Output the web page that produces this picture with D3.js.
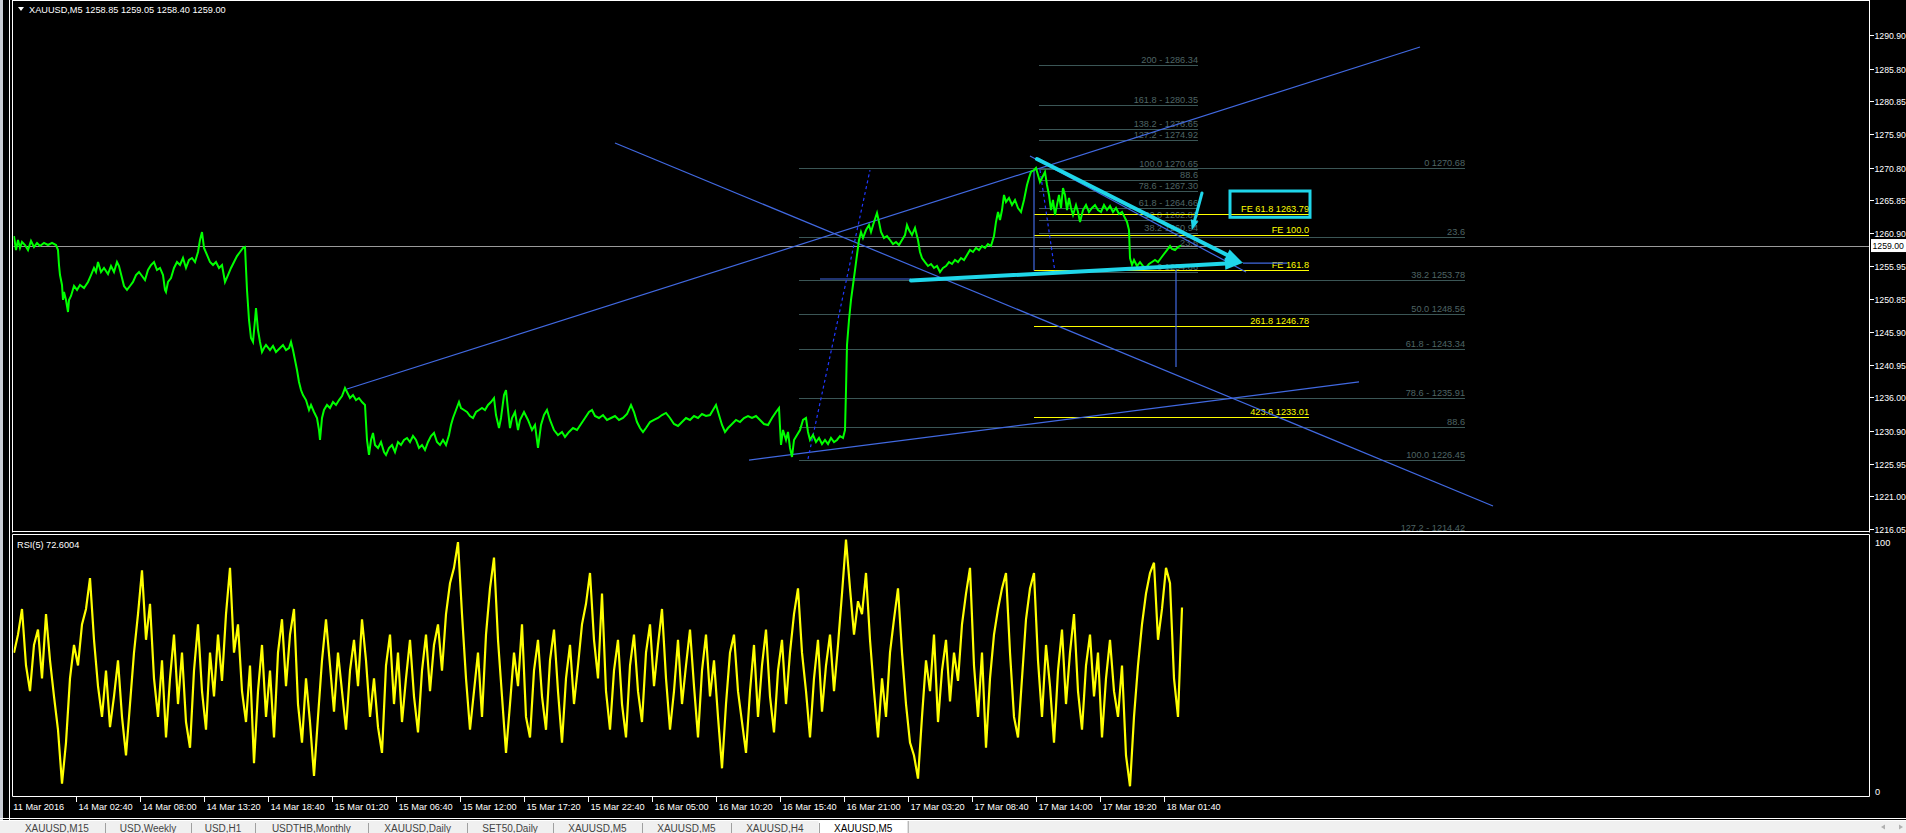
<!DOCTYPE html>
<html><head><meta charset="utf-8">
<script src="https://cdn.jsdelivr.net/npm/d3@7"></script>
<style>
body{margin:0;background:#000;overflow:hidden}
svg{display:block}
text{font-family:'Liberation Sans',Arial,sans-serif}
</style>
</head><body>
<svg id="c" width="1906" height="833"></svg>
<script>
// ---------------- DATA ----------------
const symbolHeader = "XAUUSD,M5  1258.85 1259.05 1258.40 1259.00";
const rsiHeader = "RSI(5) 72.6004";
const currentPrice = 1259.00;
const priceTickLabels = ["1290.90","1285.80","1280.85","1275.90","1270.80","1265.85","1260.90","1255.95","1250.85","1245.90","1240.95","1236.00","1230.90","1225.95","1221.00","1216.05"];
const firstDateLabel = "11 Mar 2016";
const timeLabels = ["14 Mar 02:40","14 Mar 08:00","14 Mar 13:20","14 Mar 18:40","15 Mar 01:20","15 Mar 06:40","15 Mar 12:00","15 Mar 17:20","15 Mar 22:40","16 Mar 05:00","16 Mar 10:20","16 Mar 15:40","16 Mar 21:00","17 Mar 03:20","17 Mar 08:40","17 Mar 14:00","17 Mar 19:20","18 Mar 01:40"];
const firstTickBar = 62, barsPerLabel = 64;
// [bar index, close]
const priceSeries = [[0,1260.44],[2,1258.32],[4,1259.84],[6,1258.63],[8,1259.54],[11,1259.08],[14,1258.32],[17,1259.69],[20,1258.78],[23,1259.39],[26,1258.93],[30,1259.39],[34,1259.08],[38,1259.39],[42,1259.08],[44,1258.32],[45,1256.05],[46,1254.53],[48,1253.02],[49,1250.75],[50,1251.96],[52,1250.75],[54,1248.93],[55,1250.75],[57,1251.36],[60,1252.87],[63,1252.27],[66,1253.02],[70,1252.57],[74,1253.48],[77,1254.53],[80,1255.6],[82,1254.99],[84,1256.5],[87,1254.99],[90,1255.6],[94,1254.69],[97,1255.9],[100,1254.99],[103,1256.5],[105,1255.9],[108,1254.08],[110,1252.87],[113,1252.27],[116,1252.87],[119,1253.48],[122,1254.53],[125,1254.99],[128,1254.38],[131,1253.78],[134,1255.29],[137,1256.05],[140,1256.5],[143,1255.29],[146,1255.6],[149,1254.53],[151,1252.27],[152,1251.96],[154,1253.48],[157,1254.08],[160,1255.6],[163,1256.5],[166,1256.05],[169,1257.11],[172,1255.6],[175,1256.81],[178,1257.11],[181,1256.5],[184,1258.02],[186,1259.84],[188,1261.05],[190,1258.63],[193,1257.57],[196,1256.5],[199,1256.05],[202,1256.5],[205,1255.6],[208,1256.05],[211,1253.48],[214,1254.53],[217,1255.6],[220,1256.5],[223,1257.41],[226,1258.02],[229,1258.63],[231,1258.78],[233,1252.27],[235,1247.72],[237,1244.99],[239,1244.39],[241,1247.72],[242,1249.54],[244,1246.2],[246,1244.39],[248,1242.87],[250,1243.47],[252,1243.93],[256,1243.17],[259,1243.78],[262,1242.87],[266,1243.47],[269,1243.93],[272,1243.17],[275,1243.47],[277,1244.39],[279,1243.17],[281,1241.66],[283,1240.14],[285,1238.32],[287,1237.11],[289,1236.35],[292,1235.59],[295,1234.08],[297,1234.84],[300,1233.78],[303,1232.87],[305,1231.05],[306,1229.54],[308,1232.87],[310,1234.08],[313,1234.84],[316,1234.38],[319,1235.29],[322,1234.84],[325,1235.59],[328,1236.2],[331,1237.41],[333,1236.81],[336,1235.9],[339,1236.35],[342,1235.59],[345,1235.9],[348,1235.29],[351,1234.84],[353,1229.54],[355,1227.27],[357,1229.54],[359,1230.6],[361,1228.78],[364,1228.33],[367,1229.23],[370,1227.72],[372,1227.27],[375,1228.33],[378,1228.78],[381,1227.72],[384,1229.23],[387,1228.78],[390,1229.54],[393,1229.84],[396,1229.23],[399,1230.14],[402,1229.54],[405,1228.33],[408,1228.78],[411,1228.02],[414,1229.23],[417,1230.14],[420,1230.6],[423,1229.23],[426,1228.78],[429,1229.54],[432,1228.78],[435,1230.29],[437,1231.81],[439,1232.87],[442,1234.08],[445,1235.29],[447,1234.38],[450,1234.08],[453,1233.78],[456,1233.17],[459,1232.87],[462,1233.78],[465,1234.08],[468,1234.38],[471,1234.08],[474,1234.84],[477,1235.29],[480,1235.9],[482,1233.32],[485,1231.35],[487,1232.87],[490,1236.35],[492,1237.11],[494,1234.08],[496,1231.35],[498,1232.87],[501,1233.78],[504,1231.05],[506,1232.57],[510,1233.78],[514,1232.57],[518,1231.05],[521,1231.81],[524,1228.33],[527,1231.81],[530,1233.32],[533,1234.08],[536,1232.57],[540,1231.05],[544,1230.29],[548,1230.75],[551,1229.99],[555,1230.75],[559,1231.35],[563,1231.05],[567,1231.96],[571,1232.87],[575,1233.78],[578,1234.08],[581,1233.17],[585,1232.87],[589,1233.32],[593,1232.57],[597,1232.87],[601,1233.17],[605,1232.57],[609,1232.87],[613,1233.47],[617,1234.84],[620,1233.78],[623,1232.26],[626,1231.35],[629,1230.75],[632,1231.35],[636,1232.26],[640,1232.57],[644,1232.87],[648,1233.32],[652,1233.63],[656,1232.87],[660,1231.96],[664,1231.66],[668,1232.26],[672,1232.87],[676,1232.57],[680,1233.17],[684,1232.87],[688,1233.47],[692,1233.17],[696,1233.32],[699,1234.08],[702,1234.84],[705,1233.32],[708,1231.81],[711,1230.75],[714,1231.35],[718,1231.96],[722,1232.57],[726,1232.26],[730,1232.87],[734,1233.17],[738,1232.87],[742,1233.17],[746,1232.57],[750,1231.96],[754,1231.81],[758,1232.87],[762,1233.78],[765,1234.38],[767,1228.78],[769,1231.05],[772,1229.54],[774,1230.75],[776,1228.33],[778,1226.96],[780,1229.54],[783,1230.29],[786,1231.05],[789,1232.57],[792,1232.87],[794,1230.75],[796,1229.54],[799,1230.29],[802,1229.23],[805,1229.84],[808,1228.93],[811,1229.54],[814,1228.93],[817,1229.84],[820,1229.23],[823,1229.54],[826,1230.14],[829,1229.84],[831,1231.05],[832,1237.11],[833,1243.93],[835,1247.72],[837,1250.75],[839,1253.02],[841,1255.29],[843,1257.57],[845,1259.84],[847,1261.05],[849,1260.14],[852,1261.35],[855,1262.11],[857,1261.05],[860,1262.57],[863,1263.93],[865,1262.57],[867,1261.05],[870,1260.14],[873,1260.44],[876,1259.84],[879,1259.23],[882,1259.54],[885,1259.08],[888,1259.84],[891,1260.59],[893,1262.11],[895,1261.35],[898,1260.59],[901,1261.66],[904,1259.84],[906,1258.02],[908,1257.11],[911,1256.5],[914,1255.9],[917,1256.2],[920,1255.6],[923,1255.9],[926,1254.99],[929,1255.6],[932,1255.9],[935,1256.5],[938,1256.2],[941,1256.81],[944,1256.5],[947,1257.11],[950,1256.81],[953,1257.57],[956,1258.32],[959,1258.02],[962,1258.63],[965,1258.32],[968,1258.93],[971,1258.63],[974,1259.23],[977,1258.93],[980,1260.44],[982,1262.57],[984,1264.08],[986,1262.87],[988,1264.38],[990,1266.66],[992,1265.6],[995,1266.2],[998,1265.14],[1001,1265.9],[1004,1264.69],[1007,1264.08],[1010,1265.9],[1013,1268.17],[1015,1269.23],[1017,1270.14],[1020,1270.44],[1022,1270.75],[1024,1269.69],[1026,1268.63],[1028,1269.23],[1031,1270.14],[1033,1268.17],[1035,1266.66],[1037,1264.38],[1039,1265.9],[1041,1263.63],[1043,1265.14],[1045,1266.66],[1047,1264.69],[1049,1267.72],[1051,1266.66],[1053,1264.38],[1055,1266.2],[1057,1264.69],[1059,1263.63],[1062,1265.14],[1064,1264.08],[1066,1262.57],[1069,1264.38],[1072,1265.14],[1075,1264.08],[1078,1264.69],[1081,1265.14],[1084,1264.38],[1087,1264.08],[1090,1265.14],[1093,1264.38],[1096,1264.99],[1099,1264.08],[1102,1264.69],[1105,1263.78],[1108,1264.08],[1111,1263.17],[1113,1262.57],[1115,1261.35],[1116,1257.11],[1118,1256.05],[1120,1256.81],[1123,1255.9],[1126,1256.5],[1129,1255.9],[1132,1255.6],[1135,1256.2],[1138,1256.5],[1141,1256.81],[1144,1256.5],[1147,1257.11],[1150,1257.72],[1153,1258.32],[1156,1258.93],[1158,1258.47],[1161,1258.32],[1164,1258.78],[1167,1259.0]];
const rsiStep = 4;
const rsiValues = [55,62,72,50,40,58,64,45,70,52,38,
25,4,20,45,
58,50,66,72,84,60,
42,30,48,26,38,52,30,
15,
35,55,70,87,60,74,45,
30,52,22,45,62,35,55,28,18,48,66,40,25,55,38,62,44,70,
88,
55,66,40,28,50,
12,
40,58,30,48,22,55,68,42,62,72,35,20,45,28,
7,
30,52,68,50,
32,55,40,25,48,60,42,68,52,30,45,26,16,50,62,35,55,28,45,60,38,24,48,62,40,58,66,48,70,82,88,
98,
70,45,25,40,55,30,62,80,
92,
60,38,
16,
35,55,42,66,30,22,48,60,38,25,52,64,40,20,45,58,35,50,66,74,
86,
60,45,78,40,25,48,60,35,22,50,62,40,28,55,66,42,58,72,45,25,40,60,35,50,64,42,22,48,62,38,52,30,
10,
35,55,62,40,28,
16,
40,58,30,50,64,38,24,48,60,35,55,70,
80,
55,40,22,45,60,32,50,62,40,58,78,
99,
80,62,75,70,
86,
60,40,22,45,30,55,68,
80,
55,35,20,15,
6,
30,52,40,62,28,48,60,36,55,44,66,78,
88,
50,30,55,18,45,62,72,80,
86,
55,30,22,45,68,80,
86,
52,30,58,42,20,48,64,35,55,70,40,25,50,62,38,55,22,45,60,40,30,50,15,
3,
30,50,66,78,86,
90,
60,72,
88,
82,45,30,
72.6];

// Fibonacci retracement (upper-right)
const fib1Labels = ["200 - 1286.34","161.8 -  1280.35","138.2 - 1276.65","127.2 - 1274.92","100.0 1270.65","88.6","78.6 - 1267.30","61.8 - 1264.66","50.0 1262.80","38.2 1260.94","23.6","0 1254.86"];
const fib1Prices = [1286.34,1280.35,1276.65,1274.92,1270.65,1268.86,1267.30,1264.66,1262.80,1260.94,1258.64,1254.92];
const fib1Span = [1025,1184];
// Fibonacci retracement (large)
const fib2Labels = ["0 1270.68","23.6","38.2 1253.78","50.0 1248.56","61.8 - 1243.34","78.6 - 1235.91","88.6","100.0 1226.45","127.2 - 1214.42"];
const fib2Prices = [1270.68,1260.24,1253.78,1248.56,1243.34,1235.91,1231.49,1226.45,1214.42];
const fib2Span = [785,1451];
// Fibonacci expansion
const feLabels = ["FE 61.8 1263.79","FE 100.0","FE 161.8","261.8 1246.78","423.6 1233.01"];
const fePrices = [1263.79,1260.55,1255.29,1246.78,1233.01];
const feSpan = [1020,1295];

// trend lines: [[bar, price],[bar, price]]
const blueLines = [
  [[333,1237.26],[1406,1289.08]],
  [[601,1274.54],[1479,1219.54]],
  [[735,1226.50],[1345,1238.33]],
  [[1016,1272.57],[1232,1254.99]],
  [[1020,1270.5],[1020,1255.2]],
  [[1162,1255.3],[1162,1240.6]],
  [[806,1253.93],[897,1253.93]],
  [[1229,1256.35],[1273,1256.35]]
];
const blueDashed = [
  [[794,1226.66],[856,1270.44]],
  [[1026,1270.44],[1041,1254.99]]
];
const cyanArrows = [
  [[1023,1272.11],[1229,1256.35]],
  [[897,1253.70],[1229,1256.40]],
  [[1188,1266.96],[1178,1261.35]]
];
const cyanBox = [[1216,1267.26],[1296,1263.28]];

const tabNames = ["XAUUSD,M15","USD,Weekly","USD,H1","USDTHB,Monthly","XAUUSD,Daily","SET50,Daily","XAUUSD,M5","XAUUSD,M5","XAUUSD,H4","XAUUSD,M5"];
const activeTab = 9;

// ---------------- DRAW ----------------
const svg = d3.select('#c');
const PL = 13, PR = 1870, PB = 532, RT = 534, RB = 796;
const x = d3.scaleLinear().domain([0, 1856]).range([14, 1870]);
const y = d3.scaleLinear().domain([1290.9, 1216.05]).range([35, 529]);
const yr = d3.scaleLinear().domain([0, 100]).range([794, 537]);

const C = {grid:'#3b5656', fibText:'#4f6565', blue:'#4169e1', dash:'#2038ff', cyan:'#1fd6ea', yellow:'#ffff00', green:'#00ff00', white:'#ffffff'};
const FS = 9.2;

svg.append('rect').attr('width',1906).attr('height',833).attr('fill','#000');
const defs = svg.append('defs');
defs.append('clipPath').attr('id','mainClip').append('rect').attr('x',PL+0.5).attr('y',0).attr('width',PR-PL-1).attr('height',PB);
defs.append('clipPath').attr('id','rsiClip').append('rect').attr('x',PL+0.5).attr('y',RT+1).attr('width',PR-PL-1).attr('height',RB-RT-1);

const main = svg.append('g').attr('clip-path','url(#mainClip)');

function fibSet(labels, prices, span, lineColor, textColor){
  const g = main.append('g');
  prices.forEach((p,i)=>{
    const yy = Math.round(y(p));
    g.append('line').attr('x1',x(span[0])).attr('x2',x(span[1]))
      .attr('y1',yy+0.5).attr('y2',yy+0.5)
      .attr('stroke',lineColor).attr('stroke-width',1);
    g.append('text').attr('x',x(span[1])).attr('y',Math.min(yy-2, PB-1))
      .attr('text-anchor','end').attr('font-size',FS).attr('fill',textColor).text(labels[i]);
  });
}
fibSet(fib2Labels, fib2Prices, fib2Span, C.grid, C.fibText);
fibSet(fib1Labels, fib1Prices, fib1Span, C.grid, C.fibText);
fibSet(feLabels, fePrices, feSpan, C.yellow, C.yellow);

// current price line
main.append('line').attr('x1',PL).attr('x2',PR).attr('y1',Math.round(y(currentPrice))+0.5).attr('y2',Math.round(y(currentPrice))+0.5)
  .attr('stroke','#9a9a9a').attr('stroke-width',1);

// blue trend lines
blueLines.forEach(l=>{
  main.append('line').attr('x1',x(l[0][0])).attr('y1',y(l[0][1])).attr('x2',x(l[1][0])).attr('y2',y(l[1][1]))
    .attr('stroke',C.blue).attr('stroke-width',1.2);
});
blueDashed.forEach(l=>{
  main.append('line').attr('x1',x(l[0][0])).attr('y1',y(l[0][1])).attr('x2',x(l[1][0])).attr('y2',y(l[1][1]))
    .attr('stroke',C.dash).attr('stroke-width',1.2).attr('stroke-dasharray','3,3');
});

// price line
const priceLine = d3.line().x(d=>x(d[0])).y(d=>y(d[1])).curve(d3.curveLinear);
main.append('path').datum(priceSeries).attr('d',priceLine).attr('fill','none')
  .attr('stroke',C.green).attr('stroke-width',2).attr('stroke-linejoin','miter');

// cyan arrows
function arrowHead(x1,y1,x2,y2,len,w){
  const a = Math.atan2(y2-y1,x2-x1);
  const bx = x2-len*Math.cos(a), by = y2-len*Math.sin(a);
  const px = -Math.sin(a)*w/2, py = Math.cos(a)*w/2;
  return [[x2,y2],[bx+px,by+py],[bx-px,by-py]];
}
cyanArrows.forEach((l,i)=>{
  const x1=x(l[0][0]), y1=y(l[0][1]), x2=x(l[1][0]), y2=y(l[1][1]);
  const big = i<2;
  const len = big?18:10, w = big?12:8;
  const a = Math.atan2(y2-y1,x2-x1);
  main.append('line').attr('x1',x1).attr('y1',y1).attr('x2',x2-len*0.7*Math.cos(a)).attr('y2',y2-len*0.7*Math.sin(a))
    .attr('stroke',C.cyan).attr('stroke-width',big?4:3).attr('stroke-linecap','round');
  main.append('polygon').attr('points',arrowHead(x1,y1,x2,y2,len,w).map(p=>p.join(',')).join(' '))
    .attr('fill',C.cyan);
});
main.append('rect').attr('x',x(cyanBox[0][0])).attr('y',y(cyanBox[0][1]))
  .attr('width',x(cyanBox[1][0])-x(cyanBox[0][0])).attr('height',y(cyanBox[1][1])-y(cyanBox[0][1]))
  .attr('fill','none').attr('stroke',C.cyan).attr('stroke-width',3);

// RSI
const rsiG = svg.append('g').attr('clip-path','url(#rsiClip)');
const rsiLine = d3.line().x((d,i)=>x(i*rsiStep)).y(d=>yr(d));
rsiG.append('path').datum(rsiValues).attr('d',rsiLine).attr('fill','none')
  .attr('stroke',C.yellow).attr('stroke-width',2.2).attr('stroke-linejoin','miter');

// frame: left strip & borders
svg.append('rect').attr('x',0).attr('y',0).attr('width',3).attr('height',821).attr('fill','#c8ccd4');
const bl = (x1,y1,x2,y2)=>svg.append('line').attr('x1',x1).attr('y1',y1).attr('x2',x2).attr('y2',y2).attr('stroke',C.white).attr('stroke-width',1);
bl(9.5,0,9.5,821);
bl(PL-0.5,0,PL-0.5,PB+0.5);
bl(PR-0.5,0,PR-0.5,PB+0.5);
bl(PL-0.5,0.5,PR-0.5,0.5);
bl(PL-0.5,PB-0.5,PR-0.5,PB-0.5);
bl(PL-0.5,RT+0.5,PR-0.5,RT+0.5);
bl(PL-0.5,RT+0.5,PL-0.5,RB+0.5);
bl(PR-0.5,RT+0.5,PR-0.5,RB+0.5);
bl(PL-0.5,RB+0.5,PR-0.5,RB+0.5);
bl(0,818.5,1906,818.5);
bl(0,820.5,1906,820.5);

// header texts
svg.append('polygon').attr('points','18,7 24,7 21,11').attr('fill',C.white);
svg.append('text').attr('x',29).attr('y',12.5).attr('font-size',FS).attr('fill',C.white).text(symbolHeader);
svg.append('text').attr('x',17).attr('y',547.5).attr('font-size',FS).attr('fill',C.white).text(rsiHeader);

// price axis
const AX = 8.7;
const priceTickVals = priceTickLabels.map(Number);
priceTickVals.forEach((v,i)=>{
  const yy = Math.round(y(v))+0.5;
  svg.append('line').attr('x1',PR).attr('x2',PR+4).attr('y1',yy).attr('y2',yy).attr('stroke',C.white);
  svg.append('text').attr('x',PR+4.5).attr('y',yy+3.3).attr('font-size',AX).attr('fill',C.white).text(priceTickLabels[i]);
});
const cpY = y(currentPrice);
svg.append('rect').attr('x',PR+1).attr('y',cpY-6.5).attr('width',35).attr('height',13).attr('fill',C.white);
svg.append('text').attr('x',PR+2.5).attr('y',cpY+3.3).attr('font-size',AX).attr('fill','#000').text(currentPrice.toFixed(2));
svg.append('text').attr('x',PR+5).attr('y',545.5).attr('font-size',FS).attr('fill',C.white).text('100');
svg.append('text').attr('x',PR+5).attr('y',794.5).attr('font-size',FS).attr('fill',C.white).text('0');

// time axis
svg.append('text').attr('x',x(0)-0.7).attr('y',810).attr('font-size',FS).attr('fill',C.white).text(firstDateLabel);
timeLabels.forEach((t,i)=>{
  const xx = Math.round(x(firstTickBar + i*barsPerLabel))+0.5;
  svg.append('line').attr('x1',xx).attr('x2',xx).attr('y1',RB+1).attr('y2',RB+6).attr('stroke',C.white);
  svg.append('text').attr('x',xx+2).attr('y',810).attr('font-size',FS).attr('fill',C.white).text(t);
});

// tabs bar
svg.append('rect').attr('x',0).attr('y',821).attr('width',1906).attr('height',12).attr('fill','#f0f0f0');
let tx = 9;
const tabG = svg.append('g');
const TF = 10;
tabNames.forEach((name,i)=>{
  const t = tabG.append('text').attr('y',832.3).attr('font-size',TF).attr('fill', i===activeTab?'#000':'#444').text(name);
  const w = t.node().getComputedTextLength()*1.2 + 19;
  if(i===activeTab){
    tabG.insert('rect','text').attr('x',tx).attr('y',821).attr('width',w).attr('height',12).attr('fill','#fff');
    tabG.append('line').attr('x1',tx+w+0.5).attr('x2',tx+w+0.5).attr('y1',821).attr('y2',833).attr('stroke','#a0a0a0');
  }
  t.attr('x',tx+w/2).attr('text-anchor','middle');
  if(i>0) tabG.append('line').attr('x1',Math.round(tx)+0.5).attr('x2',Math.round(tx)+0.5).attr('y1',823).attr('y2',833).attr('stroke','#a0a0a0');
  tx += w;
});
svg.append('polygon').attr('points','1881,827 1885,824.5 1885,829.5').attr('fill','#b0b0b0');
svg.append('polygon').attr('points','1903,827 1899,824.5 1899,829.5').attr('fill','#b0b0b0');
</script>
</body></html>
